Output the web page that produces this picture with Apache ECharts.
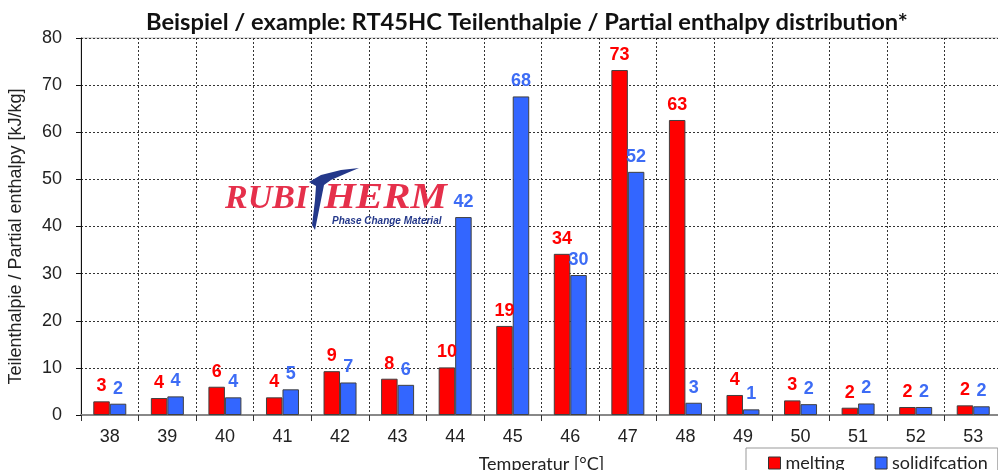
<!DOCTYPE html>
<html>
<head>
<meta charset="utf-8">
<script src="https://cdn.jsdelivr.net/npm/echarts@6/dist/echarts.min.js"></script>
<style>
html,body{margin:0;padding:0;background:#fff;}
#c{width:998px;height:470px;}
</style>
</head>
<body>
<div id="c"></div>
<script>
const categories = ['38','39','40','41','42','43','44','45','46','47','48','49','50','51','52','53'];
const melting = [2.9, 3.6, 6.0, 3.75, 9.3, 7.7, 10.1, 18.9, 34.2, 73.2, 62.6, 4.25, 3.1, 1.55, 1.7, 2.05];
const solidification = [2.4, 3.95, 3.75, 5.45, 6.9, 6.4, 42.0, 67.6, 29.7, 51.6, 2.6, 1.2, 2.3, 2.45, 1.7, 1.85];
const yTicks = [0, 10, 20, 30, 40, 50, 60, 70, 80];

const chart = echarts.init(document.getElementById('c'), null, {renderer: 'canvas'});
const labelFont = {fontFamily: '"Liberation Sans", Arial, sans-serif', fontSize: 18, fontWeight: 'bold'};
chart.setOption({
  animation: false,
  backgroundColor: '#fff',
  title: {
    text: 'Beispiel / example: RT45HC Teilenthalpie / Partial enthalpy distribution*',
    left: 141, top: 5,
    textStyle: {fontFamily: 'Lato, "Open Sans", sans-serif', fontSize: 23.7, fontWeight: 'bold', color: '#111'}
  },
  legend: {
    left: 746, top: 448,
    padding: [6, 10, 6, 22],
    borderColor: '#999', borderWidth: 1,
    itemWidth: 12, itemHeight: 12, itemGap: 30,
    icon: 'rect',
    textStyle: {fontFamily: 'Lato, "Open Sans", sans-serif', fontSize: 18, color: '#222'},
    data: [
      {name: 'melting', itemStyle: {color: '#ff0000', borderColor: '#333', borderWidth: 1}},
      {name: 'solidifcation', itemStyle: {color: '#3366ff', borderColor: '#333', borderWidth: 1}}
    ]
  },
  grid: {left: 81, top: 38, width: 921, bottom: 55, show: true, borderColor: '#bbb', borderWidth: 1,
    containLabel: false, outerBoundsMode: 'none'},
  xAxis: {
    type: 'category', data: categories,
    name: 'Temperatur [°C]', nameLocation: 'middle', nameGap: 40,
    nameTextStyle: {fontFamily: 'Lato, "Open Sans", sans-serif', fontSize: 18, color: '#222'},
    axisLine: {lineStyle: {color: '#888', width: 2}},
    axisTick: {show: true, length: 6, lineStyle: {color: '#333'}},
    axisLabel: {fontFamily: '"Liberation Sans", Arial, sans-serif', fontSize: 18, color: '#222', margin: 13},
    splitLine: {show: true, lineStyle: {color: '#333', type: [2, 2], width: 1}}
  },
  yAxis: {
    type: 'value', min: 0, max: 80, interval: 10,
    name: 'Teilenthalpie / Partial enthalpy [kJ/kg]', nameLocation: 'middle', nameGap: 56,
    nameTextStyle: {fontFamily: '"Liberation Sans", Arial, sans-serif', fontSize: 18, color: '#222', padding: [0, 20, 0, 0]},
    axisLine: {show: true, lineStyle: {color: '#111', width: 1}},
    axisTick: {show: true, length: 5, lineStyle: {color: '#111'}},
    axisLabel: {fontFamily: '"Liberation Sans", Arial, sans-serif', fontSize: 18, color: '#222', margin: 19,
      formatter: v => yTicks.includes(v) ? String(v) : ''},
    splitLine: {show: true, lineStyle: {color: '#333', type: [2, 2], width: 1}}
  },
  series: [
    {
      name: 'melting', type: 'bar', data: melting, barWidth: 16.5, barGap: '0%',
      itemStyle: {color: '#ff0000', borderColor: '#404040', borderWidth: 1},
      label: {show: true, position: 'top', distance: 6, color: '#ff0000', ...labelFont,
        formatter: p => Math.round(p.value)}
    },
    {
      name: 'solidifcation', type: 'bar', data: solidification, barWidth: 16.5,
      itemStyle: {color: '#3366ff', borderColor: '#404040', borderWidth: 1},
      label: {show: true, position: 'top', distance: 6, color: '#3d6cf5', ...labelFont,
        formatter: p => Math.round(p.value)}
    }
  ],
  graphic: [
    {type: 'text', x: 225, y: 182, z: 100,
      style: {text: 'RUBI', fill: '#e5304b', font: 'italic bold 34px "Liberation Serif", "DejaVu Serif", serif'}},
    {type: 'text', x: 324, y: 181, scaleX: 1.17, z: 100,
      style: {text: 'HERM', fill: '#e5304b', font: 'italic bold 35px "Liberation Serif", "DejaVu Serif", serif'}},
    {type: 'polygon', z: 101,
      shape: {points: [[309,182],[321,175],[341,170],[359,168],[347,173],[331,180],[324,185],[321,200],[315,230],[312,225],[315,200],[316,186]]},
      style: {fill: '#24388a'}},
    {type: 'text', x: 332, y: 216, z: 100,
      style: {text: 'Phase Change Material', fill: '#24388a', font: 'italic bold 10px "Liberation Sans", Arial, sans-serif'}}
  ]
});
</script>
</body>
</html>
